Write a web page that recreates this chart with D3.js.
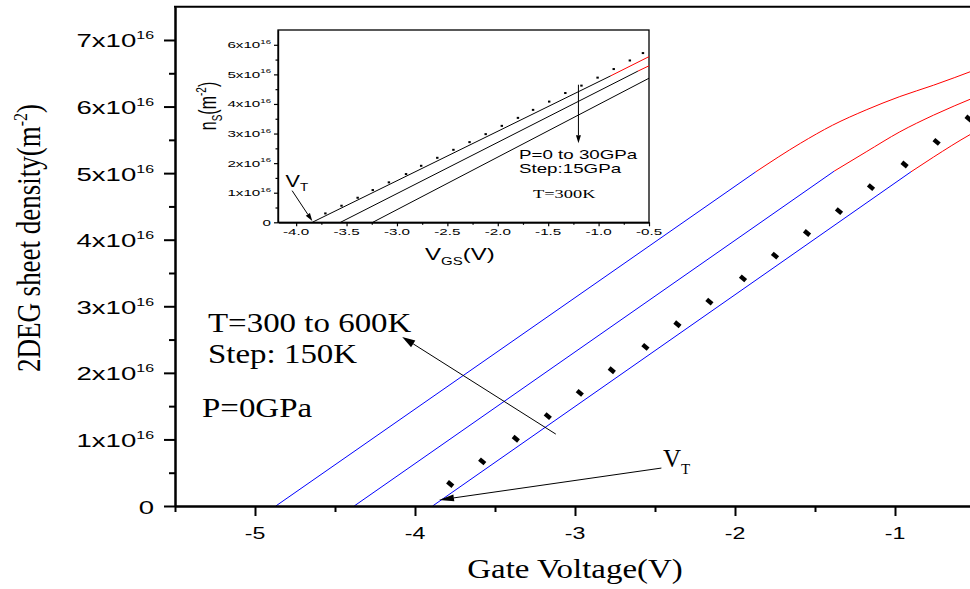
<!DOCTYPE html>
<html>
<head>
<meta charset="utf-8">
<script src="https://cdn.jsdelivr.net/npm/d3@7"></script>
<style>
  body { margin: 0; background: #fff; }
  svg { display: block; }
</style>
</head>
<body>
<svg id="chart" width="970" height="589"></svg>
<script>
// sheet density values are in units of 1e16 m^-2

// main plot: T = 300, 450, 600 K at P = 0 GPa (blue = linear part, red = saturating part)
const blue300 = [[-3.89, 0], [-0.9, 5.02]]
const red300 = [[-0.9, 5.02], [-0.76, 5.24], [-0.53, 5.58], [-0.5, 5.62]]
const blue450 = [[-4.38, 0], [-1.38, 5.03]]
const red450 = [[-1.38, 5.03], [-1.18, 5.32], [-0.97, 5.62], [-0.76, 5.87], [-0.5, 6.14]]
const blue600 = [[-4.87, 0], [-1.87, 5.02]]
const red600 = [[-1.87, 5.02], [-1.59, 5.45], [-1.39, 5.72], [-1.18, 5.95], [-0.97, 6.15], [-0.76, 6.32], [-0.5, 6.55]]

// dotted series on the main plot
const dotV = [-3.78, -3.58, -3.37, -3.17, -2.97, -2.77, -2.56, -2.36, -2.16, -1.95, -1.75, -1.55, -1.35, -1.15, -0.94, -0.74, -0.54]
const dotN = [0.33, 0.67, 1.01, 1.35, 1.7, 2.04, 2.39, 2.73, 3.07, 3.42, 3.76, 4.1, 4.43, 4.79, 5.13, 5.47, 5.82]

// inset: P = 0, 15, 30 GPa at T = 300K
const insetBlack0 = [[-3.84, 0], [-0.88, 4.95]]
const insetRed0 = [[-0.88, 4.95], [-0.5, 5.6]]
const insetBlack15 = [[-3.56, 0], [-0.61, 5.11]]
const insetRed15 = [[-0.61, 5.11], [-0.5, 5.29]]
const insetBlack30 = [[-3.24, 0], [-0.5, 4.87]]
const insetDotV = [-3.71, -3.55, -3.39, -3.24, -3.08, -2.91, -2.76, -2.6, -2.44, -2.28, -2.12, -1.96, -1.8, -1.65, -1.49, -1.33, -1.17, -1.01, -0.85, -0.69, -0.56]
const insetDotN = [0.3, 0.56, 0.83, 1.09, 1.35, 1.63, 1.91, 2.18, 2.45, 2.71, 2.98, 3.26, 3.53, 3.8, 4.08, 4.37, 4.62, 4.89, 5.18, 5.47, 5.72]

// ticks
const xMajor = [-5, -4, -3, -2, -1]
const xMinor = [-5.5, -4.5, -3.5, -2.5, -1.5]
const yMajor = [0, 1, 2, 3, 4, 5, 6, 7]
const yMinor = [0.5, 1.5, 2.5, 3.5, 4.5, 5.5, 6.5]
const insetXMajor = [-4.0, -3.5, -3.0, -2.5, -2.0, -1.5, -1.0, -0.5]
const insetXMinor = [-3.75, -3.25, -2.75, -2.25, -1.75, -1.25, -0.75]
const insetYMajor = [0, 1, 2, 3, 4, 5, 6]
const insetYMinor = [0.5, 1.5, 2.5, 3.5, 4.5, 5.5]

// annotation arrows, in data units
const arrowTemp = { from: [-3.12, 1.08], to: [-4.08, 2.54] }
const arrowVT = { from: [-2.46, 0.57], to: [-3.85, 0.09] }
const insetArrowVT = { from: [-4.04, 1.07], to: [-3.84, 0.04] }
const insetArrowP = { from: [-1.2, 4.65], to: [-1.2, 2.67] }

const SANS = 'Arial, "Liberation Sans", sans-serif'
const SERIF = '"Times New Roman", "Liberation Serif", serif'

const svg = d3.select('#chart')

const x = d3.scaleLinear().domain([-5.5, -0.5]).range([175, 975])
const y = d3.scaleLinear().domain([0, 7.5]).range([506, 6.7])
const xi = d3.scaleLinear().domain([-4.18, -0.5]).range([278, 649])
const yi = d3.scaleLinear().domain([0, 6.5]).range([222.3, 30])

// text that is stretched sideways like the picture
function label(x0, y0, sx, font, size, anchor) {
  return svg
    .append('text')
    .attr('transform', `translate(${x0},${y0}) scale(${sx},1)`)
    .attr('font-family', font)
    .attr('font-size', size)
    .attr('text-anchor', anchor || 'start')
    .attr('fill', '#000')
}

function arrow(g, xs, ys, a, headLen, headW, width) {
  const x1 = xs(a.from[0]), y1 = ys(a.from[1])
  const x2 = xs(a.to[0]), y2 = ys(a.to[1])
  const ang = Math.atan2(y2 - y1, x2 - x1)
  const bx = x2 - headLen * Math.cos(ang), by = y2 - headLen * Math.sin(ang)
  g.append('line')
    .attr('x1', x1).attr('y1', y1).attr('x2', bx).attr('y2', by)
    .attr('stroke', '#000').attr('stroke-width', width)
  const px = -Math.sin(ang) * headW, py = Math.cos(ang) * headW
  g.append('path')
    .attr('d', `M${x2},${y2}L${bx + px},${by + py}L${bx - px},${by - py}Z`)
    .attr('fill', '#000')
}

// ---- main plot ----
const line = d3.line().x((d) => x(d[0])).y((d) => y(d[1]))
const curvy = d3.line().x((d) => x(d[0])).y((d) => y(d[1])).curve(d3.curveMonotoneX)

;[blue300, blue450, blue600].forEach((d) => {
  svg.append('path').attr('d', line(d)).attr('fill', 'none').attr('stroke', '#0000ff').attr('stroke-width', 1)
})
;[red300, red450, red600].forEach((d) => {
  svg.append('path').attr('d', curvy(d)).attr('fill', 'none').attr('stroke', '#ff0000').attr('stroke-width', 1)
})

svg
  .append('g')
  .selectAll('rect')
  .data(dotV.map((v, i) => [v, dotN[i]]))
  .enter()
  .append('rect')
  .attr('x', -3.5)
  .attr('y', -2.2)
  .attr('width', 7)
  .attr('height', 4.4)
  .attr('transform', (d) => `translate(${x(d[0])},${y(d[1])}) rotate(40)`)
  .attr('fill', '#000')

// axes
const axisG = svg.append('g')
axisG
  .append('g')
  .attr('transform', `translate(0,${y(0)})`)
  .call(d3.axisBottom(x).tickValues(xMajor).tickSize(10).tickSizeOuter(0).tickFormat(''))
axisG
  .append('g')
  .attr('transform', `translate(0,${y(0)})`)
  .call(d3.axisBottom(x).tickValues(xMinor).tickSize(6).tickSizeOuter(0).tickFormat(''))
axisG
  .append('g')
  .attr('transform', `translate(${x(-5.5)},0)`)
  .call(d3.axisLeft(y).tickValues(yMajor).tickSize(11).tickSizeOuter(0).tickFormat(''))
axisG
  .append('g')
  .attr('transform', `translate(${x(-5.5)},0)`)
  .call(d3.axisLeft(y).tickValues(yMinor).tickSize(6).tickSizeOuter(0).tickFormat(''))
axisG.selectAll('path, line').attr('stroke', '#000').attr('stroke-width', 2)
axisG
  .append('line')
  .attr('x1', x(-5.5) - 1).attr('x2', x(-0.5))
  .attr('y1', y(7.5)).attr('y2', y(7.5))
  .attr('stroke', '#000').attr('stroke-width', 2)

// tick labels
xMajor.forEach((v) => {
  label(x(v), 539, 1.45, SANS, 16, 'middle').text(v)
})
yMajor.forEach((v) => {
  const t = label(154, y(v) + 7.5, 1.45, SANS, 19, 'end')
  if (v === 0) {
    t.text('0')
  } else {
    t.append('tspan').text(`${v}x10`)
    t.append('tspan').attr('font-size', 11).attr('dy', -8).text('16')
  }
})

// axis titles
label(575, 578, 1.22, SERIF, 27, 'middle').text('Gate Voltage(V)')
const yTitle = svg
  .append('text')
  .attr('transform', 'translate(40,238) rotate(-90) scale(1,1.22)')
  .attr('font-family', SERIF)
  .attr('font-size', 27)
  .attr('text-anchor', 'middle')
yTitle.append('tspan').text('2DEG sheet density(m')
yTitle.append('tspan').attr('font-size', 16).attr('dy', -11).text('-2')
yTitle.append('tspan').attr('dy', 11).text(')')

// annotations
label(208, 332, 1.22, SERIF, 27).text('T=300 to 600K')
label(208, 363, 1.22, SERIF, 27).text('Step: 150K')
label(202, 417, 1.22, SERIF, 27).text('P=0GPa')
const vt = label(663, 467, 1, SERIF, 25)
vt.append('tspan').text('V')
vt.append('tspan').attr('font-size', 15).attr('dy', 7).text('T')

const annG = svg.append('g')
arrow(annG, x, y, arrowTemp, 13, 4, 1)
arrow(annG, x, y, arrowVT, 15, 3.5, 1)

// ---- inset ----
const inset = svg.append('g')
inset
  .append('rect')
  .attr('x', xi.range()[0]).attr('y', yi.range()[1])
  .attr('width', xi.range()[1] - xi.range()[0])
  .attr('height', yi.range()[0] - yi.range()[1])
  .attr('fill', '#fff').attr('stroke', '#000').attr('stroke-width', 1.3)

const iline = d3.line().x((d) => xi(d[0])).y((d) => yi(d[1]))
;[insetBlack0, insetBlack15, insetBlack30].forEach((d) => {
  inset.append('path').attr('d', iline(d)).attr('fill', 'none').attr('stroke', '#000').attr('stroke-width', 1)
})
;[insetRed0, insetRed15].forEach((d) => {
  inset.append('path').attr('d', iline(d)).attr('fill', 'none').attr('stroke', '#ff0000').attr('stroke-width', 1)
})
inset
  .selectAll('.idot')
  .data(insetDotV.map((v, i) => [v, insetDotN[i]]))
  .enter()
  .append('rect')
  .attr('class', 'idot')
  .attr('x', (d) => xi(d[0]) - 1.2)
  .attr('y', (d) => yi(d[1]) - 1)
  .attr('width', 2.4)
  .attr('height', 2)
  .attr('fill', '#000')

const iaxis = inset.append('g')
iaxis
  .append('g')
  .attr('transform', `translate(0,${yi(0)})`)
  .call(d3.axisBottom(xi).tickValues(insetXMajor).tickSize(4).tickSizeOuter(0).tickFormat(''))
iaxis
  .append('g')
  .attr('transform', `translate(0,${yi(0)})`)
  .call(d3.axisBottom(xi).tickValues(insetXMinor).tickSize(2.5).tickSizeOuter(0).tickFormat(''))
iaxis
  .append('g')
  .attr('transform', `translate(${xi.range()[0]},0)`)
  .call(d3.axisLeft(yi).tickValues(insetYMajor).tickSize(4).tickSizeOuter(0).tickFormat(''))
iaxis
  .append('g')
  .attr('transform', `translate(${xi.range()[0]},0)`)
  .call(d3.axisLeft(yi).tickValues(insetYMinor).tickSize(2.5).tickSizeOuter(0).tickFormat(''))
iaxis.selectAll('path, line').attr('stroke', '#000').attr('stroke-width', 1.2)

insetXMajor.forEach((v) => {
  label(xi(v), 235, 1.6, SANS, 9.5, 'middle').text(v.toFixed(1))
})
insetYMajor.forEach((v) => {
  const t = label(271, yi(v) + 3.5, 1.6, SANS, 9.5, 'end')
  if (v === 0) {
    t.text('0')
  } else {
    t.append('tspan').text(`${v}x10`)
    t.append('tspan').attr('font-size', 6).attr('dy', -4.5).text('16')
  }
})

const ixTitle = label(425, 260, 1.5, SANS, 16)
ixTitle.append('tspan').text('V')
ixTitle.append('tspan').attr('font-size', 10).attr('dy', 5).text('GS')
ixTitle.append('tspan').attr('dy', -5).text('(V)')

const iyTitle = svg
  .append('text')
  .attr('transform', 'translate(216,106) rotate(-90) scale(1,1.5)')
  .attr('font-family', SANS)
  .attr('font-size', 16)
  .attr('text-anchor', 'middle')
iyTitle.append('tspan').text('n')
iyTitle.append('tspan').attr('font-size', 10).attr('dy', 4).text('S')
iyTitle.append('tspan').attr('dy', -4).text('(m')
iyTitle.append('tspan').attr('font-size', 10).attr('dy', -7).text('-2')
iyTitle.append('tspan').attr('dy', 7).text(')')

const ivt = label(285.5, 187, 1.35, SANS, 16)
ivt.append('tspan').text('V')
ivt.append('tspan').attr('font-size', 10).attr('dy', 4).text('T')

label(519, 159, 1.5, SANS, 12.5).text('P=0 to 30GPa')
label(519, 173, 1.5, SANS, 12.5).text('Step:15GPa')
label(533, 198, 1.6, SERIF, 11.5).text('T=300K')

arrow(inset, xi, yi, insetArrowVT, 8, 2.5, 1)
arrow(inset, xi, yi, insetArrowP, 8, 2.5, 1)
</script>
</body>
</html>
